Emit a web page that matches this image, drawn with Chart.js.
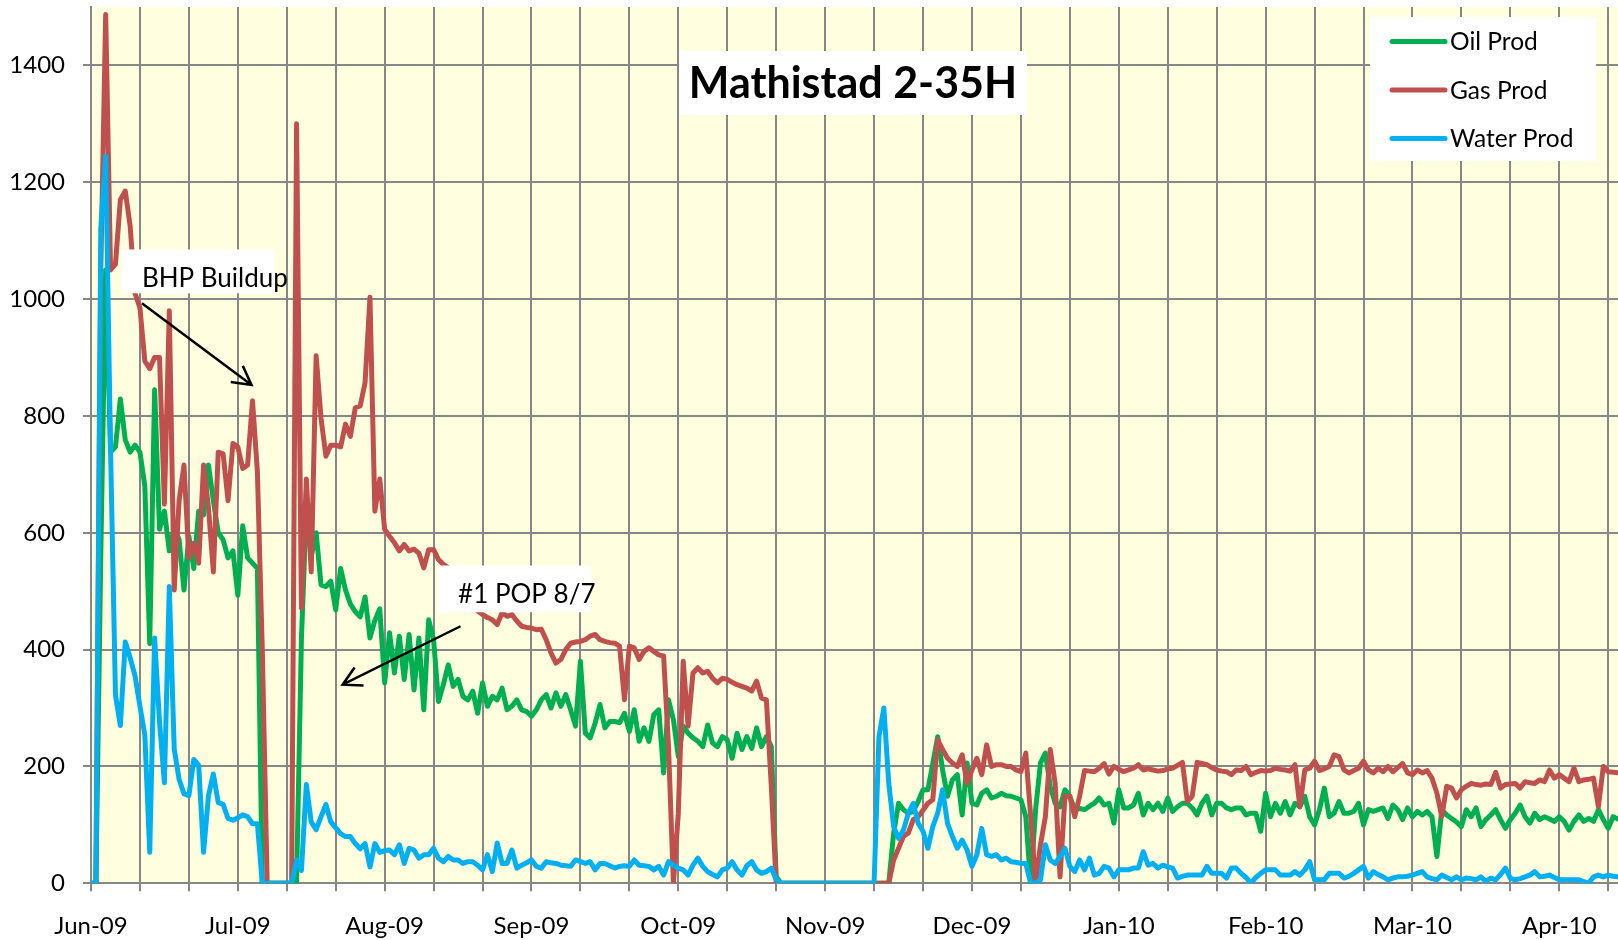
<!DOCTYPE html>
<html>
<head>
<meta charset="utf-8">
<title>Mathistad 2-35H</title>
<script src="https://cdn.jsdelivr.net/npm/chart.js@4.4.1/dist/chart.umd.min.js"></script>
<style>
  html, body { margin: 0; padding: 0; background: #fff; }
  #wrap { width: 1618px; height: 940px; position: relative; }
</style>
</head>
<body>
<div id="wrap"><canvas id="prodChart"></canvas></div>
<script>
const chartTitle = 'Mathistad 2-35H';

// one label every 30 days on the category axis
const monthTicks = ['Jun-09', 'Jul-09', 'Aug-09', 'Sep-09', 'Oct-09', 'Nov-09',
                    'Dec-09', 'Jan-10', 'Feb-10', 'Mar-10', 'Apr-10'];

// daily values
const oilProd = [
  0, 0, 560, 1050, 738, 747, 829, 759, 738, 750,
  738, 680, 410, 845, 606, 637, 569, 609, 588, 502,
  594, 539, 637, 631, 716, 655, 600, 588, 557, 569,
  493, 612, 557, 548, 539, 0, 0, 0, 0, 0,
  0, 0, 0, 420, 640, 560, 600, 511, 508, 517,
  468, 539, 502, 478, 465, 456, 490, 420, 450, 470,
  343, 429, 360, 423, 349, 426, 331, 420, 297, 451,
  417, 311, 340, 374, 337, 349, 320, 314, 329, 291,
  343, 303, 320, 314, 334, 297, 303, 314, 297, 294,
  286, 297, 314, 323, 300, 326, 303, 323, 297, 269,
  380, 257, 249, 274, 306, 266, 277, 277, 275, 291,
  260, 297, 243, 266, 243, 289, 297, 189, 314, 280,
  217, 269, 257, 249, 243, 234, 271, 240, 234, 251,
  246, 214, 257, 229, 251, 231, 266, 234, 251, 234,
  11, 0, 0, 0, 0, 0, 0, 0, 0, 0,
  0, 0, 0, 0, 0, 0, 0, 0, 0, 0,
  0, 0, 0, 0, 86, 137, 126, 120, 123, 140,
  160, 160, 205, 251, 194, 149, 177, 186, 117, 206,
  137, 134, 154, 160, 146, 149, 154, 150, 149, 146,
  143, 114, 0, 126, 206, 223, 166, 137, 131, 160,
  149, 126, 128, 126, 132, 137, 146, 134, 137, 103,
  160, 129, 129, 134, 154, 117, 137, 126, 137, 123,
  146, 123, 131, 137, 137, 129, 117, 137, 149, 117,
  137, 137, 129, 126, 129, 129, 117, 120, 120, 89,
  154, 114, 137, 120, 140, 117, 137, 131, 149, 114,
  100, 126, 163, 114, 120, 140, 120, 120, 123, 137,
  100, 126, 123, 126, 129, 111, 134, 126, 109, 129,
  114, 123, 117, 123, 114, 46, 126, 117, 111, 105,
  97, 126, 114, 129, 97, 109, 117, 126, 109, 94,
  109, 120, 134, 114, 103, 120, 109, 114, 110, 106,
  114, 106, 91, 106, 117, 106, 111, 106, 126, 109,
  94, 114, 110
];

const gasProd = [
  0, 0, 1050, 1487, 1050, 1060, 1170, 1185, 1125, 1010,
  985, 894, 881, 900, 900, 649, 980, 502, 655, 716,
  557, 582, 548, 716, 643, 533, 738, 735, 655, 753,
  747, 710, 716, 826, 704, 400, 0, 0, 0, 0,
  0, 0, 1300, 471, 692, 533, 903, 796, 731, 750,
  750, 747, 786, 765, 814, 817, 857, 1003, 637, 692,
  606, 594, 583, 569, 580, 569, 572, 565, 540, 571,
  571, 554, 546, 540, 530, 520, 505, 495, 480, 466,
  460, 455, 451, 443, 463, 457, 460, 449, 440, 438,
  437, 434, 435, 417, 394, 377, 383, 400, 411, 413,
  414, 417, 423, 426, 417, 414, 412, 411, 406, 314,
  406, 403, 383, 397, 403, 397, 391, 389, 234, 0,
  120, 380, 269, 360, 369, 360, 363, 351, 343, 351,
  349, 344, 340, 337, 334, 329, 346, 317, 314, 166,
  0, 0, 0, 0, 0, 0, 0, 0, 0, 0,
  0, 0, 0, 0, 0, 0, 0, 0, 0, 0,
  0, 0, 0, 0, 40, 60, 80, 86, 109, 114,
  125, 137, 143, 246, 229, 214, 206, 200, 220, 171,
  194, 214, 186, 237, 200, 203, 203, 200, 200, 194,
  191, 223, 114, 0, 66, 114, 229, 171, 11, 149,
  149, 114, 149, 193, 192, 191, 197, 205, 187, 200,
  195, 191, 194, 197, 203, 194, 196, 194, 192, 193,
  196, 197, 202, 207, 140, 149, 207, 205, 203, 198,
  194, 192, 191, 186, 194, 193, 200, 186, 190, 193,
  192, 193, 197, 195, 194, 192, 203, 131, 194, 197,
  209, 193, 196, 200, 220, 217, 194, 189, 193, 197,
  209, 194, 189, 197, 191, 200, 191, 198, 205, 189,
  186, 194, 189, 193, 180, 154, 114, 166, 163, 146,
  160, 166, 171, 169, 168, 170, 169, 190, 163, 169,
  170, 171, 163, 174, 172, 171, 177, 174, 194, 180,
  186, 180, 174, 197, 174, 177, 178, 180, 131, 200,
  191, 190, 189
];

const waterProd = [
  0, 0, 1120, 1245, 740, 322, 270, 413, 386, 355,
  303, 254, 53, 420, 276, 172, 508, 230, 178, 153,
  150, 212, 202, 53, 150, 187, 138, 135, 111, 108,
  112, 117, 114, 102, 102, 0, 0, 0, 0, 0,
  0, 0, 40, 22, 169, 105, 92, 114, 135, 105,
  95, 85, 80, 80, 68, 59, 68, 28, 68, 53,
  56, 57, 49, 66, 34, 60, 57, 43, 49, 49,
  60, 43, 37, 46, 40, 40, 34, 37, 37, 31,
  23, 49, 20, 69, 34, 34, 57, 26, 31, 35,
  40, 29, 26, 37, 35, 34, 31, 30, 29, 40,
  37, 34, 37, 23, 34, 34, 30, 26, 29, 30,
  29, 40, 31, 30, 29, 23, 29, 14, 37, 31,
  26, 23, 14, 31, 43, 29, 20, 15, 11, 23,
  26, 37, 23, 14, 30, 37, 23, 17, 20, 26,
  6, 0, 0, 0, 0, 0, 0, 0, 0, 0,
  0, 0, 0, 0, 0, 0, 0, 0, 0, 0,
  0, 251, 300, 171, 97, 77, 91, 120, 137, 103,
  89, 60, 97, 120, 160, 103, 80, 60, 74, 57,
  29, 49, 94, 49, 46, 49, 40, 43, 37, 36,
  34, 34, 0, 0, 6, 66, 40, 34, 46, 60,
  29, 20, 40, 23, 43, 14, 17, 29, 26, 11,
  23, 23, 23, 26, 26, 54, 31, 34, 26, 31,
  28, 26, 9, 12, 14, 14, 14, 14, 29, 17,
  17, 17, 9, 26, 26, 17, 10, 0, 10, 17,
  23, 23, 23, 14, 14, 14, 20, 14, 23, 37,
  6, 6, 6, 17, 17, 17, 9, 12, 17, 23,
  29, 9, 20, 15, 11, 6, 9, 11, 11, 12,
  14, 17, 20, 11, 8, 6, 14, 10, 6, 11,
  6, 9, 8, 6, 11, 3, 9, 6, 15, 26,
  9, 6, 8, 11, 14, 20, 11, 12, 14, 10,
  6, 6, 6, 6, 6, 3, 0, 11, 14, 11,
  14, 12, 11
];

// categories = day number from the first day
const dayIndex = oilProd.map((_, i) => i);

// callouts, placed in data units (day, value)
const notes = [
  { text: 'BHP Buildup', box: [6.3, 1085, 37.6, 1010], at: [10.4, 1021], arrow: [10.4, 993, 32.8, 853] },
  { text: '#1 POP 8/7', box: [71.1, 544, 102.1, 464], at: [75.0, 479], arrow: [75.5, 440, 51.4, 340] }
];

const gridGrey = '#878787';
const fontName = 'Lato, "Open Sans", sans-serif';

const plotBg = {
  id: 'plotBg',
  beforeDraw(chart) {
    const { ctx, chartArea: a } = chart;
    ctx.save();
    ctx.fillStyle = '#FFFFE0';
    ctx.fillRect(a.left, a.top, a.right - a.left, a.bottom - a.top);
    ctx.restore();
  }
};

function arrow(ctx, x1, y1, x2, y2) {
  const ang = Math.atan2(y2 - y1, x2 - x1);
  const len = 21, spread = 0.5;
  ctx.beginPath();
  ctx.moveTo(x1, y1);
  ctx.lineTo(x2, y2);
  ctx.moveTo(x2 - len * Math.cos(ang - spread), y2 - len * Math.sin(ang - spread));
  ctx.lineTo(x2, y2);
  ctx.lineTo(x2 - len * Math.cos(ang + spread), y2 - len * Math.sin(ang + spread));
  ctx.stroke();
}

const overlays = {
  id: 'overlays',
  afterDraw(chart) {
    const { ctx } = chart;
    const xs = chart.scales.x, ys = chart.scales.y;
    ctx.save();

    // title box
    ctx.fillStyle = '#fff';
    ctx.fillRect(679, 51, 348, 64);
    ctx.fillStyle = '#000';
    ctx.font = 'bold 43px ' + fontName;
    ctx.textAlign = 'center';
    ctx.textBaseline = 'middle';
    ctx.fillText(chartTitle, 853, 84);

    // legend box
    ctx.fillStyle = '#fff';
    ctx.fillRect(1370, 17, 226, 144);
    ctx.font = '24.5px ' + fontName;
    ctx.textAlign = 'left';
    ctx.lineCap = 'round';
    const rows = [41.5, 90, 138.5];
    chart.data.datasets.forEach((ds, i) => {
      ctx.strokeStyle = ds.borderColor;
      ctx.lineWidth = 5;
      ctx.beginPath();
      ctx.moveTo(1392, rows[i]);
      ctx.lineTo(1445, rows[i]);
      ctx.stroke();
      ctx.fillStyle = '#000';
      ctx.fillText(ds.label, 1450, rows[i] + 1);
    });

    // callouts
    ctx.font = '26px ' + fontName;
    ctx.textBaseline = 'alphabetic';
    ctx.lineCap = 'butt';
    notes.forEach(n => {
      const bx1 = xs.getPixelForValue(n.box[0]), by1 = ys.getPixelForValue(n.box[1]);
      const bx2 = xs.getPixelForValue(n.box[2]), by2 = ys.getPixelForValue(n.box[3]);
      ctx.fillStyle = '#fff';
      ctx.fillRect(bx1, by1, bx2 - bx1, by2 - by1);
      ctx.fillStyle = '#000';
      ctx.fillText(n.text, xs.getPixelForValue(n.at[0]), ys.getPixelForValue(n.at[1]));
      ctx.strokeStyle = '#000';
      ctx.lineWidth = 2.5;
      arrow(ctx,
        xs.getPixelForValue(n.arrow[0]), ys.getPixelForValue(n.arrow[1]),
        xs.getPixelForValue(n.arrow[2]), ys.getPixelForValue(n.arrow[3]));
    });
    ctx.restore();
  }
};

Chart.defaults.font.family = fontName;
Chart.defaults.color = '#000';

new Chart(document.getElementById('prodChart'), {
  type: 'line',
  data: {
    labels: dayIndex,
    datasets: [
      { label: 'Oil Prod', data: oilProd, borderColor: '#00B050', order: 3 },
      { label: 'Gas Prod', data: gasProd, borderColor: '#C0504D', order: 2 },
      { label: 'Water Prod', data: waterProd, borderColor: '#00B0F0', order: 1 }
    ]
  },
  options: {
    responsive: true,
    maintainAspectRatio: false,
    animation: false,
    layout: { padding: { top: 7, right: 0, bottom: 0, left: 0 } },
    elements: {
      point: { radius: 0 },
      line: { borderWidth: 5, tension: 0, borderJoinStyle: 'round', borderCapStyle: 'round' }
    },
    plugins: {
      legend: { display: false },
      title: { display: false },
      tooltip: { enabled: false }
    },
    scales: {
      x: {
        type: 'linear',
        min: 0,
        max: 312,
        grid: { color: gridGrey, lineWidth: 2, tickLength: 8 },
        border: { color: gridGrey, width: 2 },
        ticks: {
          stepSize: 10,
          maxTicksLimit: 40,
          includeBounds: false,
          autoSkip: false,
          maxRotation: 0,
          minRotation: 0,
          padding: 21,
          font: { size: 24 },
          callback: v => (v % 30 === 0 ? monthTicks[v / 30] : '')
        },
        afterFit(s) { s.height = 56.7; s.paddingLeft = 0; s.paddingRight = 0; }
      },
      y: {
        min: 0,
        max: 1500,
        grid: { color: gridGrey, lineWidth: 2, tickLength: 8 },
        border: { color: gridGrey, width: 2 },
        ticks: {
          stepSize: 200,
          includeBounds: false,
          padding: 18,
          font: { size: 24 },
          callback: v => String(v)
        },
        afterFit(s) { s.width = 91; s.paddingTop = 0; s.paddingBottom = 0; }
      }
    }
  },
  plugins: [plotBg, overlays]
});
</script>
</body>
</html>
